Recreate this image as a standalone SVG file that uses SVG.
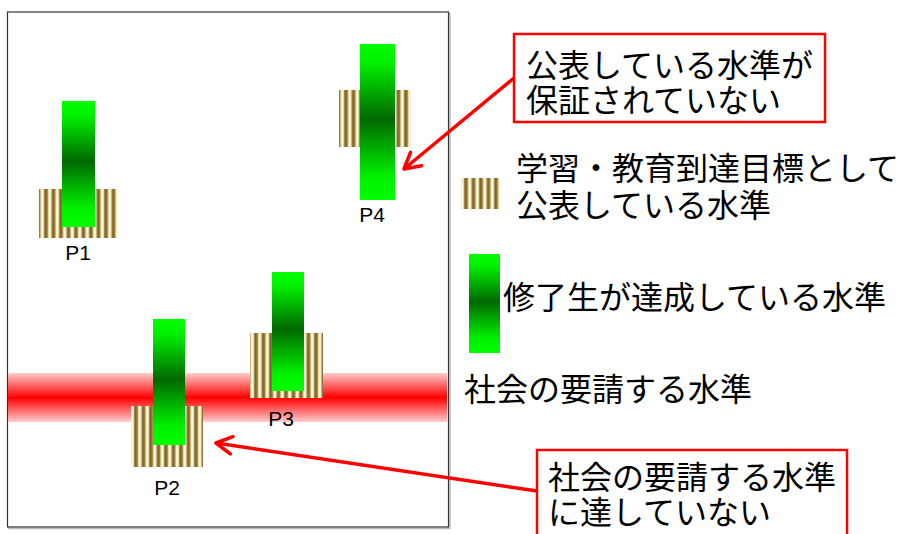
<svg xmlns="http://www.w3.org/2000/svg" width="904" height="534" viewBox="0 0 904 534">
<style>
text{font-family:"Liberation Sans","Noto Sans CJK JP",sans-serif;fill:#000}
.lbl{font-size:21px}
.big{font-size:32px}
.callout{fill:#fff;stroke:#ff0000;stroke-width:2.5}
.conn{stroke:#ff0000;stroke-width:3.5;fill:none;marker-end:url(#ah)}
.g{fill:url(#gg)}
.s{fill:url(#sp)}
</style>
<defs>
<linearGradient id="gg" x1="0" y1="0" x2="0" y2="1">
<stop offset="0" stop-color="#00ff00"/>
<stop offset="0.12" stop-color="#00f000"/>
<stop offset="0.48" stop-color="#006800"/>
<stop offset="0.85" stop-color="#00f000"/>
<stop offset="1" stop-color="#00ff00"/>
</linearGradient>
<linearGradient id="rg" x1="0" y1="0" x2="0" y2="1">
<stop offset="0" stop-color="#ffcccc"/>
<stop offset="0.5" stop-color="#ff0000"/>
<stop offset="1" stop-color="#ffcccc"/>
</linearGradient>
<linearGradient id="sg" x1="0" y1="0" x2="1" y2="0">
<stop offset="0" stop-color="#7f5f22"/>
<stop offset="0.3" stop-color="#9a7a30"/>
<stop offset="0.5" stop-color="#fff6c8"/>
<stop offset="0.75" stop-color="#fffde8"/>
<stop offset="1" stop-color="#7f5f22"/>
</linearGradient>
<pattern id="sp" patternUnits="userSpaceOnUse" width="7.5" height="10">
<rect width="7.5" height="10" fill="url(#sg)"/>
</pattern>
<marker id="ah" viewBox="0 0 12 12" refX="10" refY="6" markerWidth="6" markerHeight="6" markerUnits="strokeWidth" orient="auto">
<path d="M1,1 L10,6 L1,11" fill="none" stroke="#ff0000" stroke-width="2" stroke-linecap="round" stroke-linejoin="round"/>
</marker>
</defs>
<rect width="904" height="534" fill="#fff"/>
<g id="frame">
<rect x="9" y="13.5" width="441" height="515" fill="none" stroke="#bbb" stroke-width="1.5"/>
<rect x="7.5" y="12" width="441" height="515" fill="#fff" stroke="#333" stroke-width="1.2"/>
</g>
<g id="band">
<rect x="8" y="373" width="439" height="49" fill="url(#rg)"/>
</g>
<g id="P1">
<rect class="s" x="39" y="189" width="78" height="49"/>
<rect class="g" x="62" y="101" width="33" height="126"/>
<text class="lbl" x="78" y="260" text-anchor="middle">P1</text>
</g>
<g id="P4">
<rect class="s" x="339" y="90" width="72" height="57"/>
<rect class="g" x="360" y="44" width="35" height="156"/>
<text class="lbl" x="372" y="222" text-anchor="middle">P4</text>
</g>
<g id="P2">
<rect class="s" x="131" y="406" width="72" height="61"/>
<rect class="g" x="153" y="319" width="32" height="126"/>
<text class="lbl" x="167" y="495" text-anchor="middle">P2</text>
</g>
<g id="P3">
<rect class="s" x="250" y="333" width="73" height="65"/>
<rect class="g" x="272" y="272" width="32" height="119"/>
<text class="lbl" x="281" y="426" text-anchor="middle">P3</text>
</g>
<g id="legend-stripe">
<rect class="s" x="461" y="178" width="39" height="31"/>
<text class="big" x="516" y="180">学習・教育到達目標として</text>
<text class="big" x="516" y="217">公表している水準</text>
</g>
<g id="legend-green">
<rect class="g" x="469" y="254" width="31" height="99"/>
<text class="big" x="503" y="309">修了生が達成している水準</text>
</g>
<g id="legend-band">
<text class="big" x="464" y="401">社会の要請する水準</text>
</g>
<g id="callout1">
<rect class="callout" x="514" y="34" width="311" height="88"/>
<text class="big" x="526" y="77">公表している水準が</text>
<text class="big" x="526" y="112">保証されていない</text>
</g>
<g id="callout2">
<rect class="callout" x="537" y="450" width="310" height="100"/>
<text class="big" x="548" y="489">社会の要請する水準</text>
<text class="big" x="548" y="524">に達していない</text>
</g>
<g id="connectors">
<line class="conn" x1="514" y1="78" x2="404" y2="169"/>
<line class="conn" x1="537" y1="491" x2="216" y2="443"/>
</g>
</svg>
